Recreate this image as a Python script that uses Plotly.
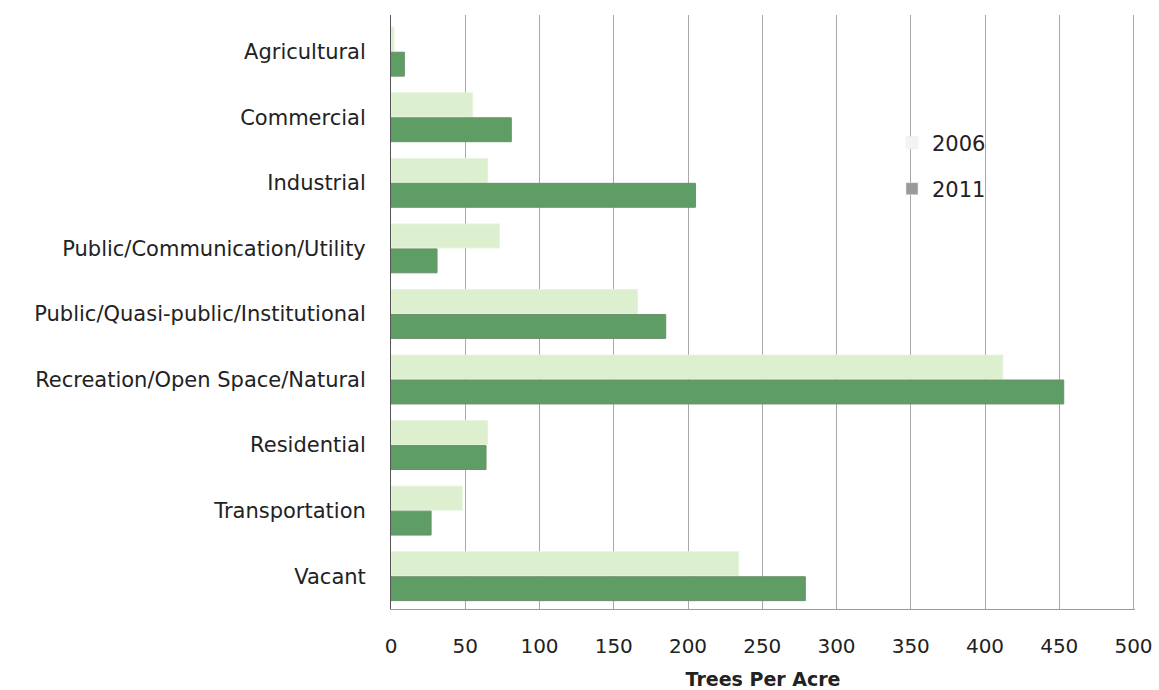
import plotly.graph_objects as go

categories = [
    "Agricultural",
    "Commercial",
    "Industrial",
    "Public/Communication/Utility",
    "Public/Quasi-public/Institutional",
    "Recreation/Open Space/Natural",
    "Residential",
    "Transportation",
    "Vacant",
]
trees_2006 = [2, 55, 65, 73, 166, 412, 65, 48, 234]
trees_2011 = [9, 81, 205, 31, 185, 453, 64, 27, 279]
x_ticks = [0, 50, 100, 150, 200, 250, 300, 350, 400, 450, 500]

FONT = "DejaVu Sans"
GRID = "#a8a8a8"
W, H = 1159, 690
L, R, T, B = 391, 24, 15, 81

fig = go.Figure()
fig.add_trace(go.Bar(
    y=categories, x=trees_2006, orientation="h", name="2006",
    offsetgroup="g2006",
    marker=dict(color="#dcefcf", line=dict(color="#e6f3dc", width=1)),
    showlegend=False,
))
fig.add_trace(go.Bar(
    y=categories, x=trees_2011, orientation="h", name="2011",
    offsetgroup="g2011",
    marker=dict(color="#5e9e64", line=dict(color="#6d8f6f", width=1)),
    showlegend=False,
))

# legend-only entries, one per legend box, sharing the bar groups
fig.add_trace(go.Bar(x=[None], y=[None], orientation="h", name="2006",
                     offsetgroup="g2006",
                     marker=dict(color="#f3f3f3"), legend="legend"))
fig.add_trace(go.Bar(x=[None], y=[None], orientation="h", name="2011",
                     offsetgroup="g2011",
                     marker=dict(color="#9a9a9a"), legend="legend2"))

# gridline at the right end of the axis (plotly drops the edge one)
fig.add_shape(type="line", xref="x", yref="paper",
              x0=x_ticks[-1], x1=x_ticks[-1], y0=0, y1=1,
              line=dict(color=GRID, width=1), layer="below")

pw = W - L - R
ph = H - T - B

def px_x(x):
    return (x - L) / pw

def px_y(y):
    return 1 - (y - T) / ph

legend_style = dict(
    font=dict(family=FONT, size=21, color="#222"),
    bgcolor="rgba(0,0,0,0)", itemwidth=30,
    xanchor="left", yanchor="middle", xref="paper", yref="paper",
)

fig.update_layout(
    width=W, height=H,
    margin=dict(l=L, r=R, t=T, b=B, autoexpand=False),
    paper_bgcolor="white", plot_bgcolor="white",
    barmode="group", bargap=0.24, bargroupgap=0.04,
    font=dict(family=FONT, color="#222"),
    legend=dict(x=px_x(892), y=px_y(143), **legend_style),
    legend2=dict(x=px_x(892), y=px_y(189), **legend_style),
    xaxis=dict(
        range=[0, 501], tickvals=x_ticks, automargin=False,
        showgrid=True, gridcolor=GRID, gridwidth=1,
        zeroline=False, showline=True, linecolor="#9a9a9a", linewidth=1,
        ticks="", ticklabelstandoff=19,
        tickfont=dict(family=FONT, size=20, color="#222"),
        title=dict(text="<b>Trees Per Acre</b>",
                   font=dict(family=FONT, size=19, color="#222"), standoff=20),
        fixedrange=True,
    ),
    yaxis=dict(
        categoryorder="array", categoryarray=categories,
        range=[8.5, -0.56], automargin=False,
        showline=True, linecolor="#555", linewidth=1,
        showgrid=False, ticks="", ticklabelstandoff=20,
        tickfont=dict(family=FONT, size=21, color="#222"),
        fixedrange=True,
    ),
)

fig.write_html("out.html")
